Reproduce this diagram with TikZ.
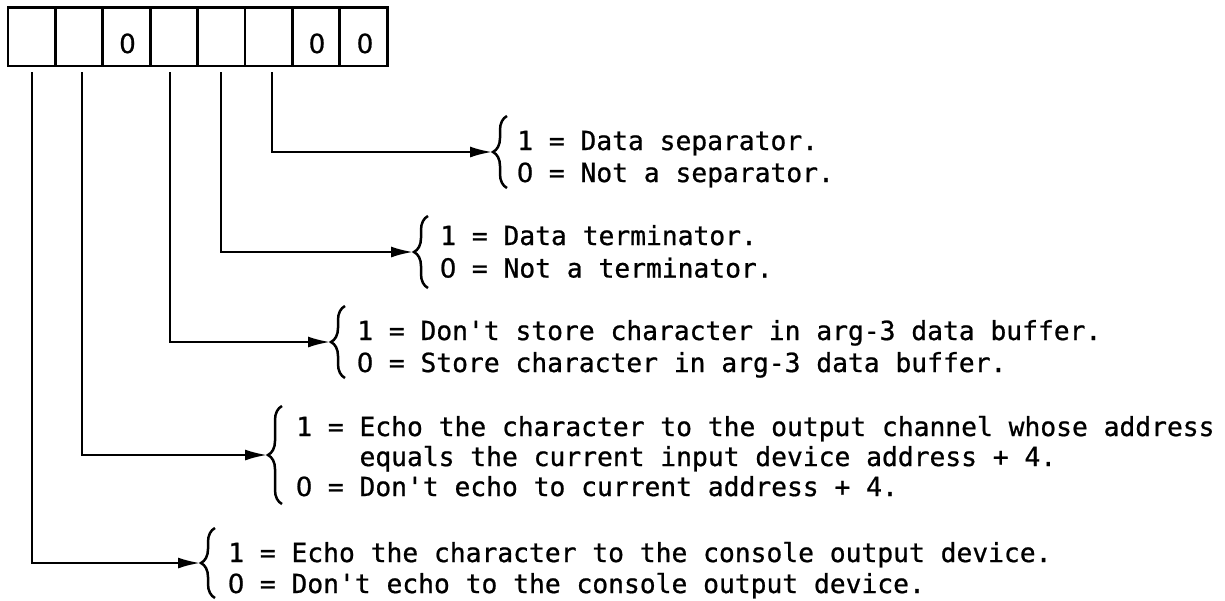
\documentclass[tikz,border=0pt]{standalone}
\usepackage{fontspec}
\setmonofont{DejaVu Sans Mono}[RawFeature={embolden=0.8}]
\newfontfamily\zerofont{DejaVu Sans}[RawFeature={embolden=0.8}]
\usetikzlibrary{arrows.meta,decorations.pathreplacing}

% an open zero set in a monospaced cell
\newcommand{\zr}{\makebox[0.602em]{\zerofont 0}}
% stacked option lines; #1 = line pitch, #2 = rows
\newcommand{\choicelines}[2]{{\fontsize{26.3}{#1}\selectfont\begin{tabular}[t]{@{}l@{}}#2\end{tabular}}}

\begin{document}
\begin{tikzpicture}[x=1pt,y=-1pt,
  cell/.style={draw,line width=2.8pt,minimum width=47.4pt,minimum height=58.7pt,inner sep=0pt,outer sep=0pt},
  digit/.style={anchor=base,inner sep=0pt,font=\ttfamily\fontsize{26.3}{31}\selectfont},
  conn/.style={line width=2.2pt,-{Latex[length=22pt,width=11pt]}},
  curly/.style={line width=2.5pt,decorate,decoration={brace,amplitude=14pt}},
  choice/.style={anchor=base west,inner sep=0pt,font=\ttfamily}]

\useasboundingbox (0,0) rectangle (1225,600);

% the eight bit cells of the register
\foreach \i in {1,...,8}
  \node[cell] (c\i) at ({8+47.4*(\i-0.5)},36.7) {};

\node[digit] (d3) at (127.5,53) {\zr};
\node[digit] (d7) at (317,53) {\zr};
\node[digit] (d8) at (365,53) {\zr};

% brace tips
\coordinate (tip1) at (492,152);
\coordinate (tip2) at (413,252);
\coordinate (tip3) at (330,342);
\coordinate (tip4) at (267,455);
\coordinate (tip5) at (200,563);

% braces
\draw[curly] (507,188) -- (507,116);
\draw[curly] (428,288) -- (428,216);
\draw[curly] (345,378) -- (345,306);
\draw[curly] (282,504) -- (282,406);
\draw[curly] (215,598) -- (215,528);

% option texts
\node[choice] (t1) at (517,150) {\choicelines{32}{1 = Data separator.\\\zr{} = Not a separator.}};
\node[choice] (t2) at (440,245) {\choicelines{32.5}{1 = Data terminator.\\\zr{} = Not a terminator.}};
\node[choice] (t3) at (357,340) {\choicelines{32}{1 = Don't store character in arg-3 data buffer.\\\zr{} = Store character in arg-3 data buffer.}};
\node[choice] (t4) at (296,436) {\choicelines{30}{1 = Echo the character to the output channel whose address\\\phantom{1 = }equals the current input device address + 4.\\\zr{} = Don't echo to current address + 4.}};
\node[choice] (t5) at (228,562) {\choicelines{31}{1 = Echo the character to the console output device.\\\zr{} = Don't echo to the console output device.}};

% connectors from bits to their braces
\draw[conn] ([xshift=3pt,yshift=-6pt]c6.south) |- (tip1);
\draw[conn] ([yshift=-6pt]c5.south) |- (tip2);
\draw[conn] ([xshift=-4pt,yshift=-6pt]c4.south) |- (tip3);
\draw[conn] ([xshift=3pt,yshift=-6pt]c2.south) |- (tip4);
\draw[conn] ([yshift=-6pt]c1.south) |- (tip5);
\end{tikzpicture}
\end{document}
